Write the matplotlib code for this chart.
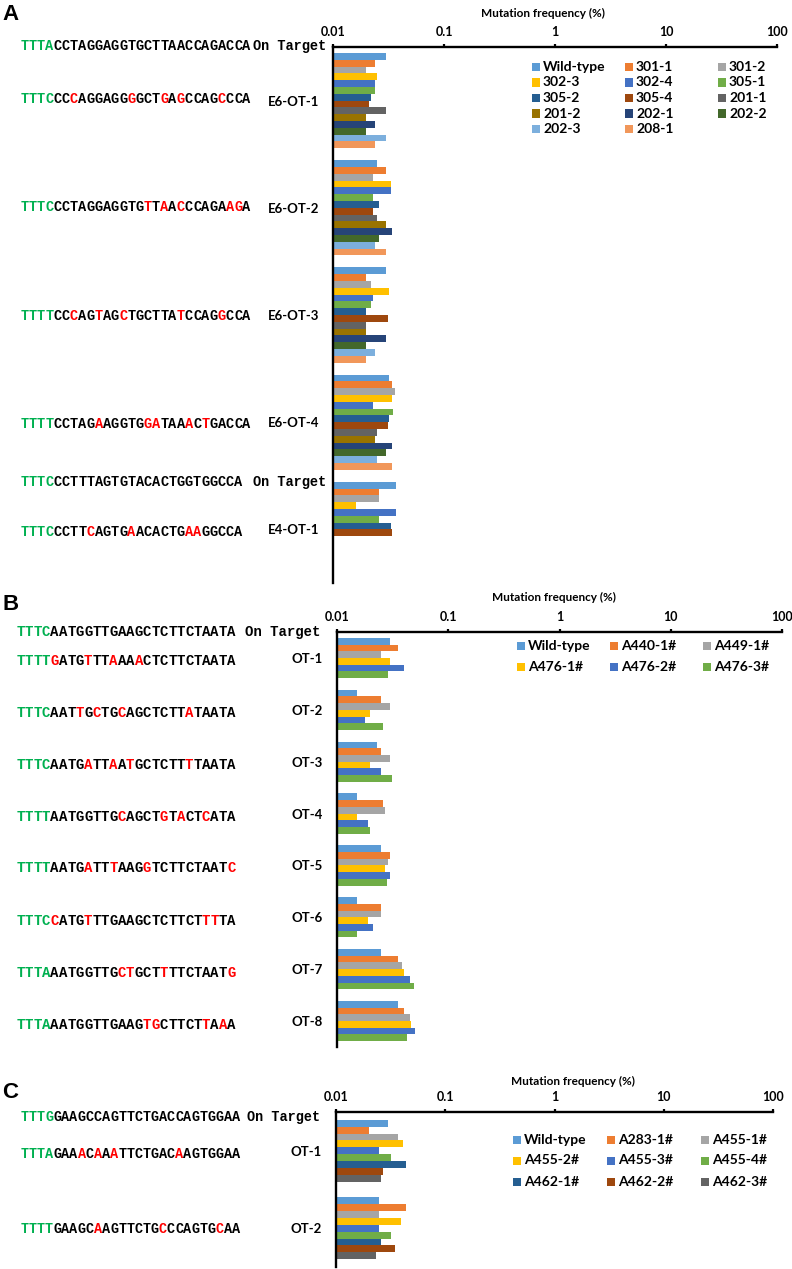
import numpy as np
import matplotlib
matplotlib.use('Agg')
import matplotlib.pyplot as plt
from matplotlib.patches import Rectangle
from matplotlib.ticker import NullLocator

W, H = 792, 1269
fig = plt.figure(figsize=(W / 100, H / 100), dpi=100)

SANS = 'Lato'
MONO = 'Liberation Mono'
GREEN = '#00B050'
RED = '#FF0000'
office = ['#5B9BD5', '#ED7D31', '#A5A5A5', '#FFC000', '#4472C4', '#70AD47', '#255E91',
          '#9E480E', '#636363', '#997300', '#264478', '#43682B', '#7CAFDD', '#F1975A']

# ---- panel A data ----
a_cats = ['E6-OT-1', 'E6-OT-2', 'E6-OT-3', 'E6-OT-4', 'E4-OT-1']
a_series = ['Wild-type', '301-1', '301-2', '302-3', '302-4', '305-1', '305-2',
            '305-4', '201-1', '201-2', '202-1', '202-2', '202-3', '208-1']
a_e6_ot1 = [0.030, 0.024, 0.020, 0.025, 0.024, 0.024, 0.022, 0.021, 0.030, 0.020, 0.024, 0.020, 0.030, 0.024]
a_e6_ot2 = [0.025, 0.030, 0.023, 0.033, 0.033, 0.023, 0.026, 0.023, 0.025, 0.030, 0.034, 0.026, 0.024, 0.030]
a_e6_ot3 = [0.030, 0.020, 0.022, 0.032, 0.023, 0.022, 0.020, 0.031, 0.020, 0.020, 0.030, 0.020, 0.024, 0.020]
a_e6_ot4 = [0.032, 0.034, 0.036, 0.034, 0.023, 0.035, 0.032, 0.031, 0.025, 0.024, 0.034, 0.030, 0.025, 0.034]
a_e4_ot1 = [0.037, 0.026, 0.026, 0.016, 0.037, 0.026, 0.033, 0.034]
# upper case = match, lower case = mismatch, first 4 letters = PAM
a_seqs = ['TTTACCTAGGAGGTGCTTAACCAGACCA', 'TTTCCCcAGGAGGgGCTgAgCCAGcCCA',
          'TTTCCCTAGGAGGTGtTaAcCCAGAagA', 'TTTTCCcAGtAGcTGCTTAtCCAGgCCA',
          'TTTTCCTAGaAGGTGgaTAAaCtGACCA', 'TTTCCCTTTAGTGTACACTGGTGGCCA',
          'TTTCCCTTcAGTGaACACTGaaGGCCA']

# ---- panel B data ----
b_cats = ['OT-1', 'OT-2', 'OT-3', 'OT-4', 'OT-5', 'OT-6', 'OT-7', 'OT-8']
b_series = ['Wild-type', 'A440-1#', 'A449-1#', 'A476-1#', 'A476-2#', 'A476-3#']
b_ot1 = [0.030, 0.035, 0.025, 0.030, 0.040, 0.029]
b_ot2 = [0.015, 0.025, 0.030, 0.020, 0.018, 0.026]
b_ot3 = [0.023, 0.025, 0.030, 0.020, 0.025, 0.031]
b_ot4 = [0.015, 0.026, 0.027, 0.015, 0.019, 0.020]
b_ot5 = [0.025, 0.030, 0.029, 0.027, 0.030, 0.028]
b_ot6 = [0.015, 0.025, 0.025, 0.019, 0.021, 0.015]
b_ot7 = [0.025, 0.035, 0.038, 0.040, 0.045, 0.049]
b_ot8 = [0.035, 0.040, 0.045, 0.046, 0.050, 0.043]
b_seqs = ['TTTCAATGGTTGAAGCTCTTCTAATA', 'TTTTgATGtTTaAAaCTCTTCTAATA',
          'TTTCAATtGcTGcAGCTCTTaTAATA', 'TTTCAATGaTTaAtGCTCTTtTAATA',
          'TTTTAATGGTTGcAGCTgTaCTcATA', 'TTTTAATGaTTtAAGgTCTTCTAATc',
          'TTTCcATGtTTGAAGCTCTTCTttTA', 'TTTAAATGGTTGctGCTtTTCTAATg',
          'TTTAAATGGTTGAAGtgCTTCTtAaA']

# ---- panel C data ----
c_cats = ['OT-1', 'OT-2']
c_series = ['Wild-type', 'A283-1#', 'A455-1#', 'A455-2#', 'A455-3#', 'A455-4#',
            'A462-1#', 'A462-2#', 'A462-3#']
c_ot1 = [0.030, 0.020, 0.037, 0.041, 0.025, 0.032, 0.044, 0.027, 0.026]
c_ot2 = [0.025, 0.044, 0.025, 0.039, 0.025, 0.032, 0.026, 0.035, 0.023]
c_seqs = ['TTTGGAAGCCAGTTCTGACCAGTGGAA', 'TTTAGAAaCaAaTTCTGACaAGTGGAA',
          'TTTTGAAGCaAGTTCTGcCCAGTGcAA']


def fx(x):
    return x / W


def fy(y):
    return 1 - y / H


def draw_seq(x0, y, seq, size):
    pitch = 0.6 * size * 100 / 72
    for i, ch in enumerate(seq):
        c = GREEN if i < 4 else (RED if ch.islower() else 'black')
        fig.text(fx(x0 + i * pitch), fy(y), ch.upper(), color=c, fontsize=size,
                 family=MONO, weight='bold', va='center', ha='left')


def panel(box, cats, series, rows, gw, leg_x, leg_y, leg_dx, leg_dy, ncol):
    x0, x1, y0, y1 = box
    ax = fig.add_axes([fx(x0), fy(y1), (x1 - x0) / W, (y1 - y0) / H])
    n = len(series)
    h = gw / n
    for j in range(n):
        ys = [i - gw / 2 + h * (j + 0.5) for i, r in enumerate(rows) if j < len(r)]
        ws = [r[j] for r in rows if j < len(r)]
        ax.barh(ys, np.array(ws) - 0.01, left=0.01, height=h, color=office[j], linewidth=0)
    ax.set_xscale('log')
    ax.set_xlim(0.01, 100)
    ax.set_ylim(len(cats) - 0.5, -0.5)
    ax.xaxis.tick_top()
    ax.set_xticks([0.01, 0.1, 1, 10, 100])
    ax.set_xticklabels(['0.01', '0.1', '1', '10', '100'], fontsize=9, weight='bold', family=SANS)
    ax.xaxis.set_minor_locator(NullLocator())
    ax.set_yticks(range(len(cats)))
    ax.set_yticklabels(cats, fontsize=9.5, weight='bold', family=SANS)
    ax.tick_params(axis='y', length=0, pad=10)
    ax.tick_params(axis='x', length=2.5, width=1.6, pad=4)
    for s in ['right', 'bottom']:
        ax.spines[s].set_visible(False)
    for s in ['top', 'left']:
        ax.spines[s].set_linewidth(1.7)
    # legend laid out row by row like the original
    for k, name in enumerate(series):
        r, c = divmod(k, ncol)
        lx, ly = leg_x + c * leg_dx, leg_y + r * leg_dy
        fig.add_artist(Rectangle((fx(lx), fy(ly + 4)), 8 / W, 8 / H,
                                 transform=fig.transFigure, color=office[k], lw=0))
        fig.text(fx(lx + 11), fy(ly), name, fontsize=10, weight='bold', family=SANS, va='center')
    return ax


# A
panel((333, 777, 47, 583), a_cats, a_series, [a_e6_ot1, a_e6_ot2, a_e6_ot3, a_e6_ot4, a_e4_ot1],
      0.888, 532, 67, 93, 15.5, 3)
for s, y in zip(a_seqs, [46, 99, 207, 316, 424, 482, 532]):
    draw_seq(20.7, y, s, 9.85)
for y in [46, 482]:
    fig.text(fx(253), fy(y), 'On Target', fontsize=9.85, family=MONO, weight='bold', va='center')
fig.text(fx(543), fy(13), 'Mutation frequency (%)', fontsize=8.5, weight='bold', family=SANS, ha='center', va='center')
fig.text(fx(2), fy(14), 'A', fontsize=16, weight='bold', family='Liberation Sans', va='center')

# B
panel((337, 782, 632, 1047), b_cats, b_series,
      [b_ot1, b_ot2, b_ot3, b_ot4, b_ot5, b_ot6, b_ot7, b_ot8],
      0.774, 517, 646, 93, 21, 3)
for s, y in zip(b_seqs, [632, 661, 713, 765, 817, 868, 921, 973, 1025]):
    draw_seq(16.7, y, s, 10.1)
fig.text(fx(245), fy(632), 'On Target', fontsize=10.1, family=MONO, weight='bold', va='center')
fig.text(fx(554), fy(597), 'Mutation frequency (%)', fontsize=8.5, weight='bold', family=SANS, ha='center', va='center')
fig.text(fx(2), fy(604), 'B', fontsize=16, weight='bold', family='Liberation Sans', va='center')

# C
panel((336, 773, 1112, 1267), c_cats, c_series, [c_ot1, c_ot2],
      0.80, 513, 1139.5, 94, 21, 3)
for s, y in zip(c_seqs, [1117, 1154, 1229]):
    draw_seq(20.7, y, s, 9.75)
fig.text(fx(246.7), fy(1117), 'On Target', fontsize=9.75, family=MONO, weight='bold', va='center')
fig.text(fx(573), fy(1081), 'Mutation frequency (%)', fontsize=8.5, weight='bold', family=SANS, ha='center', va='center')
fig.text(fx(2), fy(1092), 'C', fontsize=16, weight='bold', family='Liberation Sans', va='center')

fig.savefig('out.png', dpi=100)
